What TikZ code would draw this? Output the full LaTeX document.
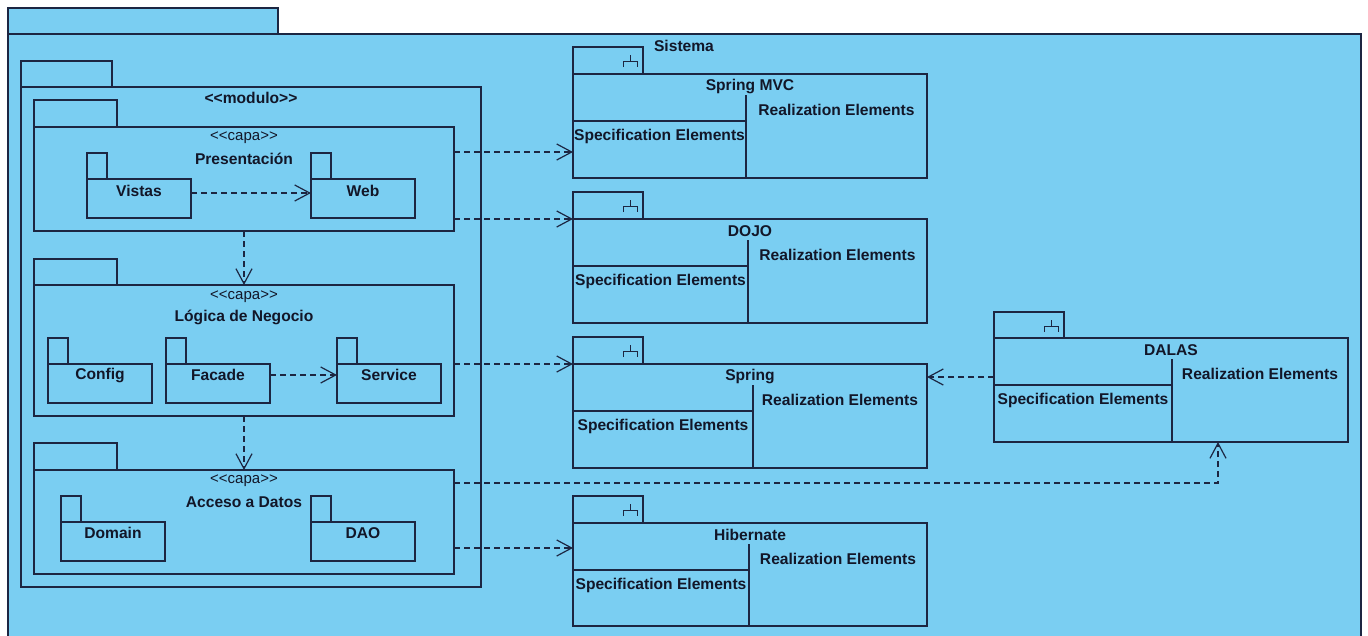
\documentclass[tikz,border=0pt]{standalone}
\usepackage{fontspec}
\setmainfont{Liberation Sans}
\usetikzlibrary{arrows.meta,calc}
\definecolor{pfill}{RGB}{122,206,242}
\definecolor{pline}{RGB}{28,38,66}
\definecolor{ptext}{RGB}{18,22,40}
\newcommand\lt{<\kern0pt<}
\newcommand\gt{>\kern0pt>}
\newcommand\bx[5]{\node[box,minimum width=#4pt,minimum height=#5pt] (#1) at (#2,#3) {};}
% name, x, tabtop, bodytop, height, divider offset, title
\newcommand\subsys[7]{%
  \bx{#1tab}{#2}{#3}{70}{#4-#3}
  \bx{#1}{#2}{#4}{354}{#5}
  \draw[div] ($(#1.north west)+(#6,21)$) -- ($(#1.south west)+(#6,0)$);
  \draw[div] ($(#1.north west)+(0,47)$) -- ++(#6,0);
  \draw[div,line width=1pt] ($(#1tab.north west)+(57,8)$) -- ++(0,6)
     ($(#1tab.north west)+(50,20)$) -- ++(0,-6) -- ++(14,0) -- ++(0,6);
  \node[bl] (#1title) at ($(#1.north)+(0,12)$) {#7};
  \node[bl] (#1real) at ($(#1.north west)+({(#6+354)/2},36)$) {Realization Elements};
  \node[bl] (#1spec) at ($(#1.north west)+({#6/2},62)$) {Specification Elements};
}
\begin{document}
\begin{tikzpicture}[x=1pt,y=-1pt,
 box/.style={draw=pline, fill=pfill, line width=1.3pt, inner sep=0pt, outer sep=0pt, anchor=north west, rectangle},
 bl/.style={font=\fontsize{15.6}{18}\selectfont\bfseries, text=ptext, inner sep=0pt},
 st/.style={font=\fontsize{15}{17}\selectfont, text=ptext, inner sep=0pt},
 dep/.style={draw=pline, line width=1.2pt, dash pattern=on 6pt off 4pt, -{Straight Barb[length=15pt,width=16pt]}},
 div/.style={draw=pline, line width=1.3pt},
]
\useasboundingbox (0,0) rectangle (1368,635);
% Sistema
\bx{sistab}{8}{8}{270}{26}
\bx{sis}{8}{34}{1353}{608}
\node[bl] (sislbl) at (684,46) {Sistema};
% modulo
\bx{modtab}{21}{61}{91}{26}
\bx{mod}{21}{87}{460}{500}
\node[bl] (modlbl) at (251,98) {\lt modulo\gt};
% Presentacion
\bx{prestab}{34}{100}{83}{27}
\bx{pres}{34}{127}{420}{104}
\node[st] (presst) at (244,138) {\lt capa\gt};
\node[bl] (preslbl) at (244,159) {Presentación};
\bx{vistastab}{87}{153}{20}{26}
\bx{vistas}{87}{179}{104}{39}
\node[bl] (vistaslbl) at (139,191) {Vistas};
\bx{webtab}{311}{153}{20}{26}
\bx{web}{311}{179}{104}{39}
\node[bl] (weblbl) at (363,191) {Web};
% Logica
\bx{logtab}{34}{259}{83}{26}
\bx{logica}{34}{285}{420}{131}
\node[st] (logst) at (244,297) {\lt capa\gt};
\node[bl] (loglbl) at (244,317) {Lógica de Negocio};
\bx{configtab}{48}{338}{20}{26}
\bx{config}{48}{364}{104}{39}
\node[bl] (configlbl) at (100,375) {Config};
\bx{facadetab}{166}{338}{20}{26}
\bx{facade}{166}{364}{104}{39}
\node[bl] (facadelbl) at (218,375) {Facade};
\bx{servicetab}{337}{338}{20}{26}
\bx{service}{337}{364}{104}{39}
\node[bl] (servicelbl) at (389,375) {Service};
% Acceso
\bx{acctab}{34}{443}{83}{27}
\bx{acceso}{34}{470}{420}{104}
\node[st] (accst) at (244,481) {\lt capa\gt};
\node[bl] (acclbl) at (244,502) {Acceso a Datos};
\bx{domaintab}{61}{496}{20}{26}
\bx{domain}{61}{522}{104}{39}
\node[bl] (domainlbl) at (113,533) {Domain};
\bx{daotab}{311}{496}{20}{26}
\bx{dao}{311}{522}{104}{39}
\node[bl] (daolbl) at (363,533) {DAO};
% Subsystems
\subsys{mvc}{573}{47}{74}{104}{173}{Spring MVC}
\subsys{dojo}{573}{192}{219}{104}{175}{DOJO}
\subsys{spring}{573}{337}{364}{104}{180}{Spring}
\subsys{hib}{573}{496}{523}{103}{176}{Hibernate}
\subsys{dalas}{994}{312}{338}{104}{178}{DALAS}
% Dependencies
\draw[dep] ([yshift=-14pt]vistas.north east) -- ([yshift=-14pt]web.north west);
\draw[dep] ([yshift=-11pt]facade.north east) -- ([yshift=-11pt]service.north west);
\draw[dep] (pres.south) -- (logica.north);
\draw[dep] (logica.south) -- (acceso.north);
\path ([yshift=-25pt]pres.north east) coordinate (p1);
\draw[dep] (p1) -- (p1 -| mvc.west);
\draw[dep] (pres.east |- dojo.north west) -- (dojo.north west);
\draw[dep] (logica.east |- spring.north west) -- (spring.north west);
\path ([yshift=-39pt]dalas.north west) coordinate (p2);
\draw[dep] (p2) -- (p2 -| spring.east);
\path ([yshift=-13pt]acceso.north east) coordinate (p3);
\path ([xshift=47pt]dalas.south) coordinate (p4);
\draw[dep] (p3) -| (p4);
\path ([yshift=26pt]acceso.south east) coordinate (p5);
\draw[dep] (p5) -- (p5 -| hib.west);
\end{tikzpicture}
\end{document}
